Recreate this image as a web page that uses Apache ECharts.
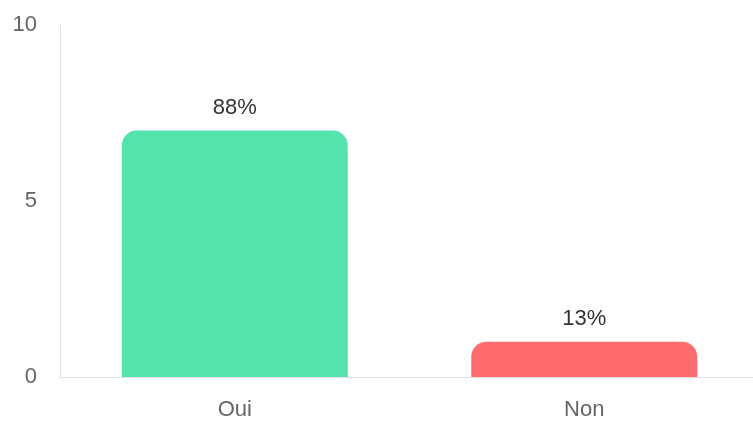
<!DOCTYPE html>
<html>
<head>
<meta charset="utf-8">
<script src="https://cdn.jsdelivr.net/npm/echarts@6/dist/echarts.min.js"></script>
<style>html,body{margin:0;padding:0;background:#fff;overflow:hidden;}#c{width:759px;height:426px;}</style>
</head>
<body>
<div id="c"></div>
<script>
const categories = ["Oui", "Non"];
const values = [7, 1];
const percentLabels = ["88%", "13%"];
const barColors = ["#54E3AD", "#FF6C70"];
const yTicks = [0, 5, 10];

const chart = echarts.init(document.getElementById('c'), null, {renderer: 'canvas'});
chart.setOption({
  animation: false,
  grid: {left: 60, right: 0, top: 25, bottom: 49},
  xAxis: {
    type: 'category',
    data: categories,
    axisLine: {show: true, lineStyle: {color: '#e0e0e0', width: 1}},
    axisTick: {show: false},
    axisLabel: {color: '#666', fontSize: 22, margin: 22, fontFamily: 'Liberation Sans, Arial, sans-serif'}
  },
  yAxis: {
    type: 'value',
    min: yTicks[0],
    max: yTicks[yTicks.length - 1],
    interval: 5,
    axisLine: {show: true, lineStyle: {color: '#e0e0e0', width: 1}},
    axisTick: {show: false},
    splitLine: {show: false},
    axisLabel: {color: '#666', fontSize: 22, margin: 23, fontFamily: 'Liberation Sans, Arial, sans-serif'}
  },
  series: [{
    type: 'bar',
    barWidth: 226,
    data: values.map((v, i) => ({
      value: v,
      itemStyle: {color: barColors[i], borderRadius: [15, 15, 0, 0]},
      label: {formatter: percentLabels[i]}
    })),
    label: {
      show: true,
      position: 'top',
      distance: 12,
      color: '#333',
      fontSize: 22,
      fontFamily: 'Liberation Sans, Arial, sans-serif'
    }
  }]
});
</script>
</body>
</html>
